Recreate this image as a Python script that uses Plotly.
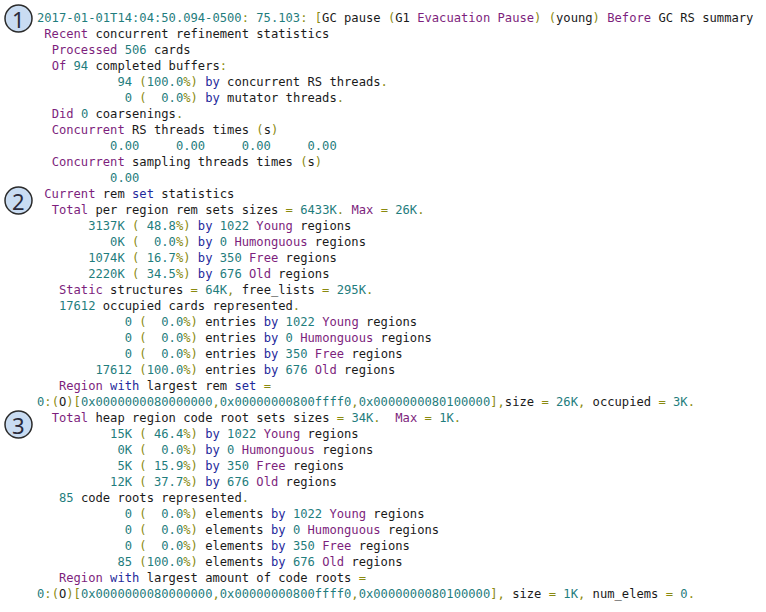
import re
import plotly.graph_objects as go

# ---- data: the log text, one entry per line ----
LOG_LINES = [
    "2017-01-01T14:04:50.094-0500: 75.103: [GC pause (G1 Evacuation Pause) (young) Before GC RS summary",
    " Recent concurrent refinement statistics",
    "  Processed 506 cards",
    "  Of 94 completed buffers:",
    "           94 (100.0%) by concurrent RS threads.",
    "            0 (  0.0%) by mutator threads.",
    "  Did 0 coarsenings.",
    "  Concurrent RS threads times (s)",
    "          0.00     0.00     0.00     0.00",
    "  Concurrent sampling threads times (s)",
    "          0.00",
    " Current rem set statistics",
    "  Total per region rem sets sizes = 6433K. Max = 26K.",
    "       3137K ( 48.8%) by 1022 Young regions",
    "          0K (  0.0%) by 0 Humonguous regions",
    "       1074K ( 16.7%) by 350 Free regions",
    "       2220K ( 34.5%) by 676 Old regions",
    "   Static structures = 64K, free_lists = 295K.",
    "   17612 occupied cards represented.",
    "            0 (  0.0%) entries by 1022 Young regions",
    "            0 (  0.0%) entries by 0 Humonguous regions",
    "            0 (  0.0%) entries by 350 Free regions",
    "        17612 (100.0%) entries by 676 Old regions",
    "   Region with largest rem set =",
    "0:(O)[0x0000000080000000,0x00000000800ffff0,0x0000000080100000],size = 26K, occupied = 3K.",
    "  Total heap region code root sets sizes = 34K.  Max = 1K.",
    "          15K ( 46.4%) by 1022 Young regions",
    "           0K (  0.0%) by 0 Humonguous regions",
    "           5K ( 15.9%) by 350 Free regions",
    "          12K ( 37.7%) by 676 Old regions",
    "   85 code roots represented.",
    "            0 (  0.0%) elements by 1022 Young regions",
    "            0 (  0.0%) elements by 0 Humonguous regions",
    "            0 (  0.0%) elements by 350 Free regions",
    "           85 (100.0%) elements by 676 Old regions",
    "   Region with largest amount of code roots =",
    "0:(O)[0x0000000080000000,0x00000000800ffff0,0x0000000080100000], size = 1K, num_elems = 0.",
]

PURPLE_WORDS = ["Recent", "Processed", "Of", "Did", "Concurrent", "Current", "Total",
                "Static", "Region", "Young", "Humonguous", "Free", "Old",
                "Evacuation", "Pause", "Before", "Max"]
BLUE_WORDS = ["by", "set", "with"]

MARKER_LABELS = ["1", "2", "3"]

# ---- styles ----
C_NUM = "#1f7d7d"
C_KEY = "#7d1f7d"
C_BLUE = "#1f2a9c"
C_PUNCT = "#8a8a10"
C_TEXT = "#1a1a1a"

TOKEN_RE = re.compile(
    r"(?P<date>\d{4}-\d{2}-\d{2}T[\d:.]+-\d{4})"
    r"|(?P<hex>0x[0-9a-fA-F]+)"
    r"|(?P<num>\d+(?:\.\d+)?K?)"
    r"|(?P<word>[A-Za-z_][A-Za-z0-9_]*)"
    r"|(?P<space> +)"
    r"|(?P<other>.)"
)


def colorize(line):
    parts = []
    for m in TOKEN_RE.finditer(line):
        kind = m.lastgroup
        tok = m.group(0)
        if kind == "space":
            parts.append("\u00a0" * len(tok))
            continue
        if kind in ("date", "hex", "num"):
            col = C_NUM
        elif kind == "word":
            if tok in PURPLE_WORDS:
                col = C_KEY
            elif tok in BLUE_WORDS:
                col = C_BLUE
            else:
                col = C_TEXT
        else:
            col = C_PUNCT
        parts.append(f'<span style="color:{col}">{tok}</span>')
    return "".join(parts)


W, H = 766, 612
fig = go.Figure()

X0 = 35
Y0 = 18
LH = 16
FONT = "DejaVu Sans Mono"
FS = 12.15

annotations = []
for i, line in enumerate(LOG_LINES):
    annotations.append(dict(
        x=X0, y=Y0 + LH * i, xref="x", yref="y",
        text=colorize(line), showarrow=False,
        xanchor="left", yanchor="middle", align="left",
        font=dict(family=FONT, size=FS, color=C_TEXT),
    ))

marker_centres = [(18.5, 18.5), (18.5, 200.5), (18.5, 424.5)]
R = 13.5
shapes = []
for lab, (cx, cy) in zip(MARKER_LABELS, marker_centres):
    shapes.append(dict(type="circle", xref="x", yref="y",
                       x0=cx - R, x1=cx + R, y0=cy - R, y1=cy + R,
                       fillcolor="#c9dcf2", line=dict(color="#2a2a2a", width=1.5)))
    annotations.append(dict(
        x=cx, y=cy + 0.5, xref="x", yref="y", text=lab, showarrow=False,
        xanchor="center", yanchor="middle",
        font=dict(family="Noto Sans", size=22, color="#2a2a3a"),
    ))

fig.update_layout(
    width=W, height=H,
    margin=dict(l=0, r=0, t=0, b=0),
    paper_bgcolor="white", plot_bgcolor="white",
    xaxis=dict(range=[0, W], visible=False, fixedrange=True),
    yaxis=dict(range=[H, 0], visible=False, fixedrange=True),
    showlegend=False,
    shapes=shapes,
    annotations=annotations,
)

fig.write_html(
    "out.html",
    config={"displayModeBar": False},
    post_script="document.body.style.margin='0';document.body.style.overflow='hidden';",
)
